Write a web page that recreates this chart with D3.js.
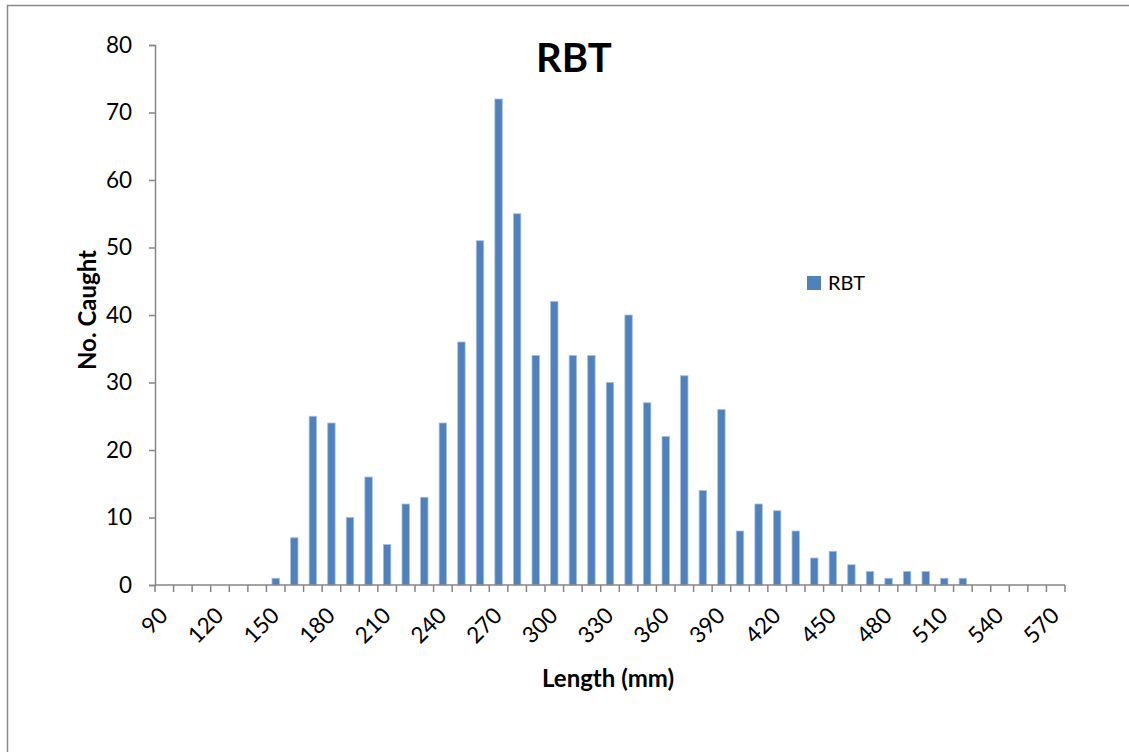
<!DOCTYPE html>
<html><head><meta charset="utf-8">
<script src="https://cdn.jsdelivr.net/npm/d3@7"></script>
<style>body{margin:0;background:#fff}svg{display:block;font-family:Lato,"Open Sans",sans-serif}</style>
</head><body>
<svg id="chart" width="1129" height="752"></svg>
<script>
const categories = d3.range(90, 571, 10).map(String);
const seriesName = "RBT";
const values = [0,0,0,0,0,0,1,7,25,24,10,16,6,12,13,24,36,51,72,55,34,42,34,34,30,40,27,22,31,14,26,8,12,11,8,4,5,3,2,1,2,2,1,1,0,0,0,0,0];
const yTicks = [0,10,20,30,40,50,60,70,80];
const xLabelEvery = 3;

const svg = d3.select("#chart");
const W = 1129, H = 752;
const m = {left:155, right:1065, top:45, bottom:585};

svg.append("rect").attr("x",7.5).attr("y",5.5).attr("width",W+10).attr("height",H+10)
  .attr("fill","#fff").attr("stroke","#898989").attr("stroke-width",1.5);

const x = d3.scaleBand().domain(categories).range([m.left, m.right]).paddingInner(0.6).paddingOuter(0.3);
const xb = d3.scaleBand().domain(categories).range([m.left, m.right]);
const y = d3.scaleLinear().domain([0,80]).range([m.bottom, m.top]);

// bars
svg.append("g").selectAll("rect").data(values).join("rect")
  .attr("x",(d,i)=>x(categories[i]))
  .attr("width",x.bandwidth())
  .attr("y",d=>y(d))
  .attr("height",d=>y(0)-y(d))
  .attr("fill","#4F81BD")
  .attr("stroke","#A7C0DE").attr("stroke-width",0.8);

// y axis
const ya = svg.append("g").attr("transform",`translate(${m.left},0)`)
  .call(d3.axisLeft(y).tickValues(yTicks).tickSize(6).tickPadding(17));
ya.select(".domain").attr("stroke","#868686").attr("stroke-width",1.5);
ya.selectAll(".tick line").attr("stroke","#868686").attr("stroke-width",1.5);
ya.selectAll(".tick text").attr("font-size",22.5).attr("fill","#000").attr("font-family","Lato");

// x axis: ticks at category boundaries
const xg = svg.append("g");
xg.append("line").attr("x1",m.left).attr("x2",m.right).attr("y1",y(0)).attr("y2",y(0))
  .attr("stroke","#868686").attr("stroke-width",1.5);
const bounds = categories.map(c=>xb(c)).concat([m.right]);
xg.selectAll("line.t").data(bounds).join("line").attr("class","t")
  .attr("x1",d=>d).attr("x2",d=>d).attr("y1",y(0)).attr("y2",y(0)+7)
  .attr("stroke","#868686").attr("stroke-width",1.5);
xg.selectAll("text").data(categories.filter((c,i)=>i%xLabelEvery===0)).join("text")
  .attr("transform",d=>`translate(${xb(d)+xb.bandwidth()/2+5},${y(0)+32}) rotate(-45)`)
  .attr("text-anchor","end")
  .attr("font-size",22.5).attr("fill","#000").text(d=>d);

// title
svg.append("text").attr("x",574).attr("y",72).attr("text-anchor","middle")
  .attr("font-size",40).attr("font-weight","bold").text(seriesName);
// axis titles
svg.append("text").attr("transform","translate(96,310) rotate(-90)").attr("text-anchor","middle")
  .attr("font-size",24).attr("font-weight","bold").text("No. Caught");
svg.append("text").attr("x",608).attr("y",687).attr("text-anchor","middle")
  .attr("font-size",24).attr("font-weight","bold").text("Length (mm)");
// legend
svg.append("rect").attr("x",807).attr("y",276).attr("width",14).attr("height",14).attr("fill","#4F81BD");
svg.append("text").attr("x",828).attr("y",290).attr("font-size",20).text(seriesName);
</script>
</body></html>
